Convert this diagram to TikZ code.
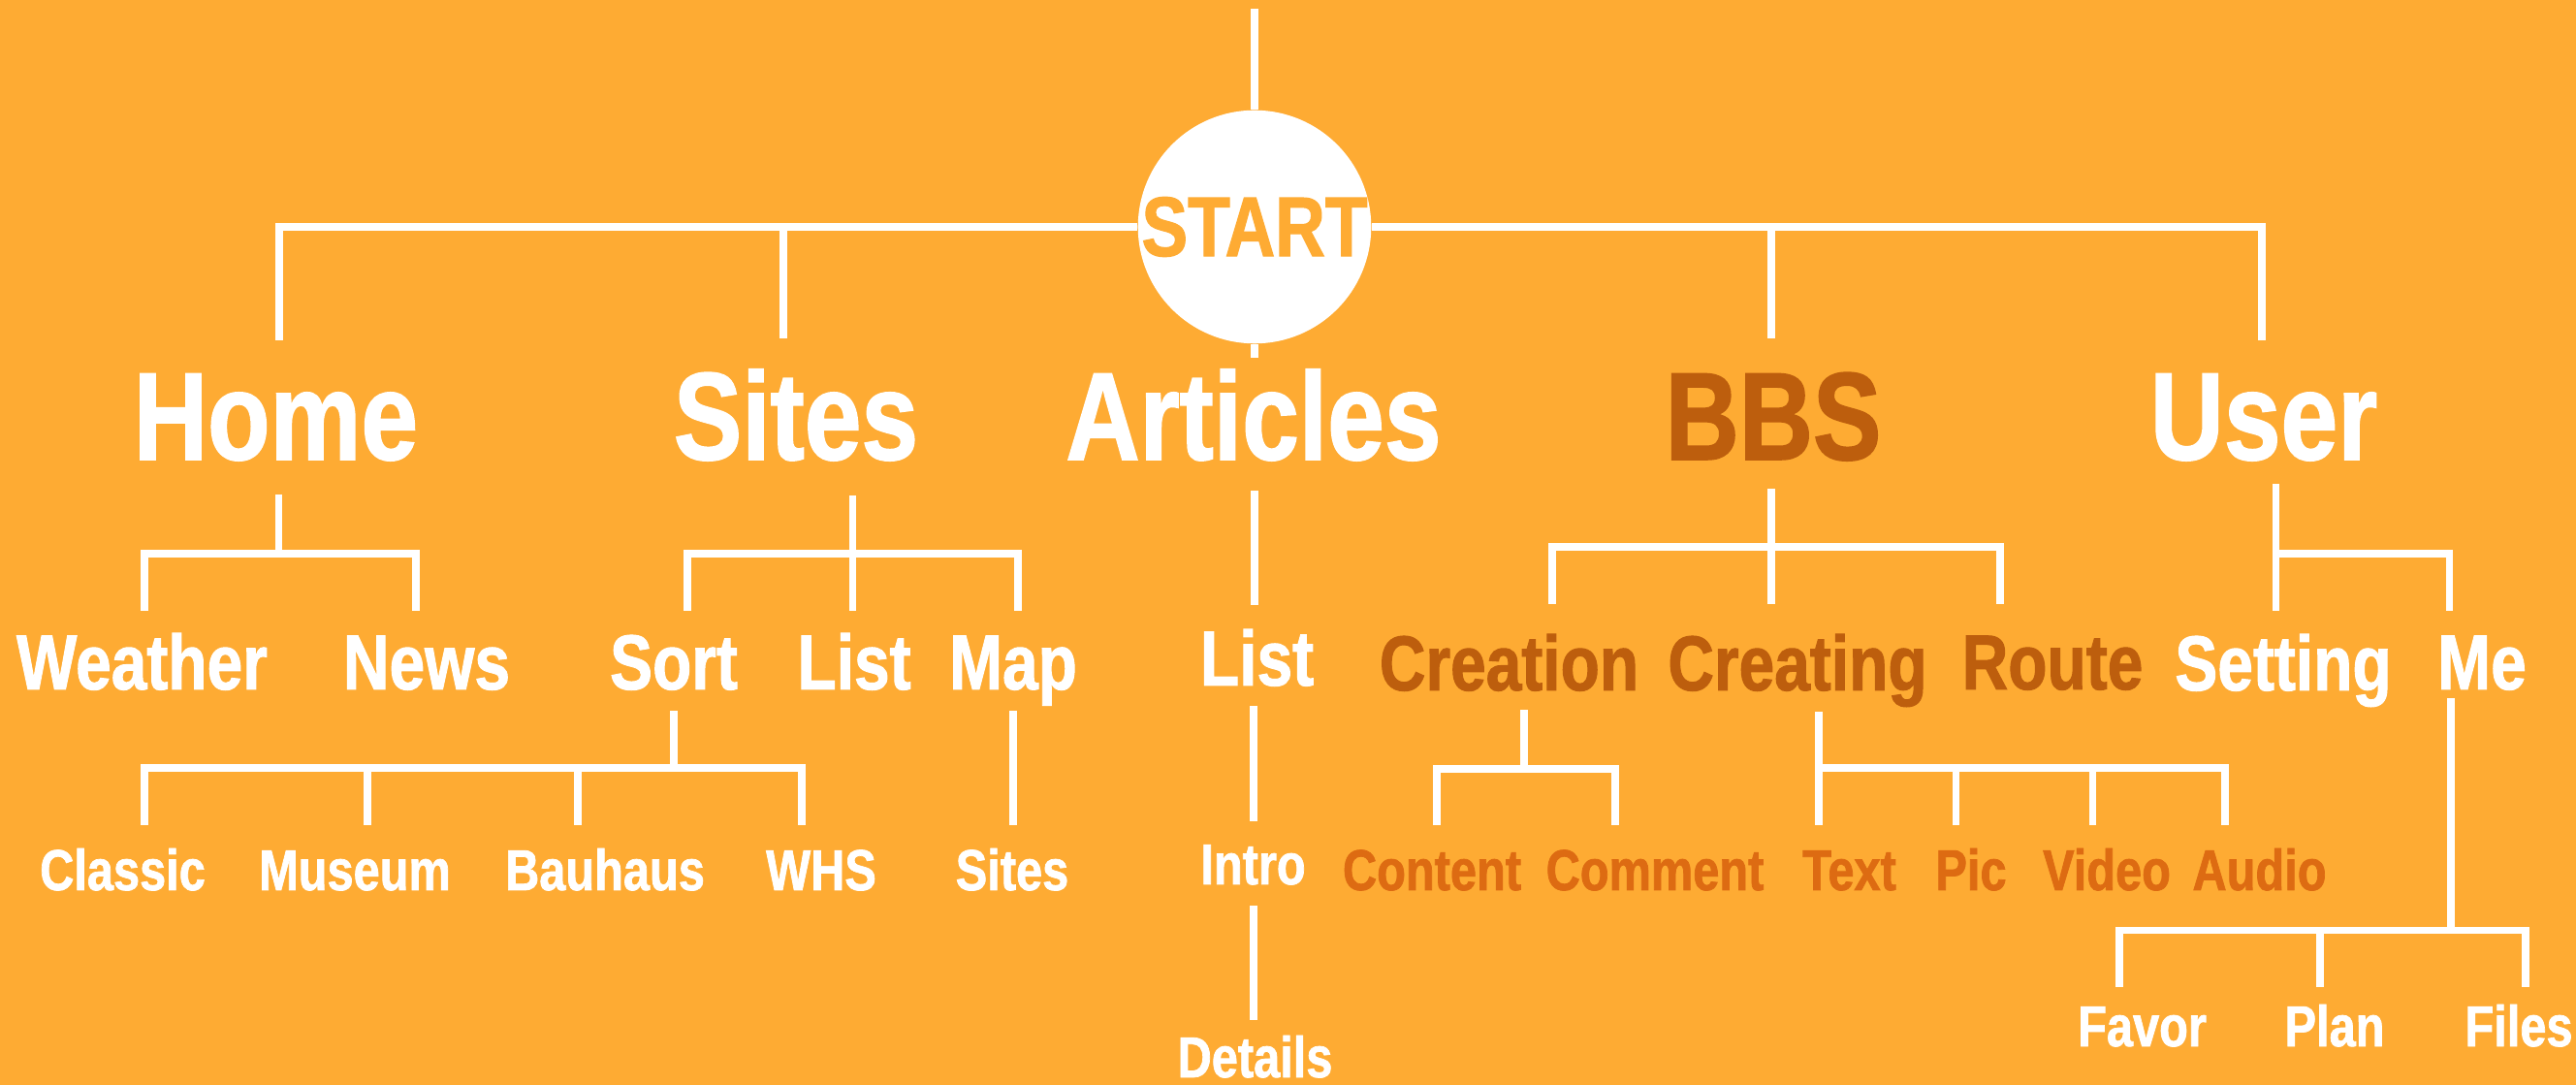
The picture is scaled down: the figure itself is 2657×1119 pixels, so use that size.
\documentclass[tikz,border=0pt]{standalone}
\usepackage{fontspec}
\setmainfont{Liberation Sans}[FakeStretch=0.82, BoldFeatures={FakeBold=1.2}]
\usetikzlibrary{positioning}

\definecolor{bgorange}{HTML}{FEAB33}
\definecolor{bbsbrown}{HTML}{BD5E0D}
\definecolor{bbsorange}{HTML}{DD6B12}

\begin{document}
\begin{tikzpicture}[
    x=0.01cm, y=-0.01cm,
    link/.style={draw=white, line width=0.075cm},
    startnode/.style={circle, fill=white, minimum size=2.37cm, inner sep=0, text=bgorange, font=\fontsize{24.8pt}{27pt}\selectfont\bfseries},
    tierone/.style={anchor=base, inner sep=0, text=white, font=\fontsize{36.6pt}{40pt}\selectfont\bfseries},
    tiertwo/.style={anchor=base, inner sep=0, text=white, font=\fontsize{22.85pt}{25pt}\selectfont\bfseries},
    tierthree/.style={anchor=base, inner sep=0, text=white, font=\fontsize{16.9pt}{19pt}\selectfont\bfseries},
    darktext/.style={text=bbsbrown},
    leaftext/.style={text=bbsorange}
]

% Background
\fill[bgorange] (0,0) rectangle (2657,1119);
\useasboundingbox (0,0) rectangle (2657,1119);

% Root
\node[startnode] (start) at (1294,234) {START};
\coordinate (entry) at (1294,9);
\draw[link] (entry) -- (start);

% Top level
\node[tierone] (home) at (284.5,474) {Home};
\node[tierone] (sites) at (821,474) {Sites};
\node[tierone] (articles) at (1293,474) {Articles};
\node[tierone, darktext] (bbs) at (1829,474) {BBS};
\node[tierone] (user) at (2335,474) {User};

\coordinate (home-t) at (288,351);
\coordinate (sites-t) at (808,349);
\coordinate (articles-t) at (1294,369);
\coordinate (bbs-t) at (1827,349);
\coordinate (user-t) at (2333,351);

\draw[link] (home-t) |- (start) -| (user-t);
\draw[link] (sites-t) -- (sites-t |- start);
\draw[link] (bbs-t) -- (bbs-t |- start);
\draw[link] (start) -- (articles-t);

% Second level
\node[tiertwo] (weather) at (146.5,711) {Weather};
\node[tiertwo] (news) at (440,711) {News};
\node[tiertwo] (sort) at (695,711) {Sort};
\node[tiertwo] (list) at (881,711) {List};
\node[tiertwo] (map) at (1045,711) {Map};
\node[tiertwo] (lista) at (1296.5,707) {List};
\node[tiertwo, darktext] (creation) at (1556.5,712) {Creation};
\node[tiertwo, darktext] (creating) at (1854,712) {Creating};
\node[tiertwo, darktext] (route) at (2117,711) {Route};
\node[tiertwo] (setting) at (2355,712) {Setting};
\node[tiertwo] (me) at (2560,711) {Me};

\coordinate (home-s) at (287.5,510);
\coordinate (home-j) at (287.5,571);
\coordinate (weather-t) at (149,630);
\coordinate (news-t) at (429,630);
\coordinate (sites-s) at (879.5,511);
\coordinate (sites-j) at (879.5,571);
\coordinate (sort-t) at (709,630);
\coordinate (list-t) at (879.5,630);
\coordinate (map-t) at (1050,630);
\coordinate (articles-s) at (1294,506);
\coordinate (lista-t) at (1294,624);
\coordinate (bbs-s) at (1827,504);
\coordinate (bbs-j) at (1827,564);
\coordinate (creation-t) at (1601,623);
\coordinate (creating-t) at (1827,623);
\coordinate (route-t) at (2063,623);
\coordinate (user-s) at (2347.5,499);
\coordinate (user-j) at (2347.5,571);
\coordinate (setting-t) at (2347.5,630);
\coordinate (me-t) at (2526.5,630);

\draw[link] (home-s) -- (home-j);
\draw[link] (weather-t) |- (home-j) -| (news-t);
\draw[link] (sites-s) -- (list-t);
\draw[link] (sort-t) |- (sites-j) -| (map-t);
\draw[link] (articles-s) -- (lista-t);
\draw[link] (bbs-s) -- (creating-t);
\draw[link] (creation-t) |- (bbs-j) -| (route-t);
\draw[link] (user-s) -- (setting-t);
\draw[link] (user-j) -| (me-t);

% Third level
\node[tierthree] (classic) at (126.5,918) {Classic};
\node[tierthree] (museum) at (366,918) {Museum};
\node[tierthree] (bauhaus) at (624,918) {Bauhaus};
\node[tierthree] (whs) at (847,918) {WHS};
\node[tierthree] (sitesb) at (1044,918) {Sites};
\node[tierthree] (intro) at (1292.5,912) {Intro};
\node[tierthree] (details) at (1294.5,1111) {Details};
\node[tierthree, leaftext] (content) at (1477,918) {Content};
\node[tierthree, leaftext] (comment) at (1707,918) {Comment};
\node[tierthree, leaftext] (text) at (1907.5,918) {Text};
\node[tierthree, leaftext] (pic) at (2033,918) {Pic};
\node[tierthree, leaftext] (video) at (2173,918) {Video};
\node[tierthree, leaftext] (audio) at (2330.5,918) {Audio};
\node[tierthree] (favor) at (2209.5,1079) {Favor};
\node[tierthree] (plan) at (2408,1079) {Plan};
\node[tierthree] (files) at (2598,1079) {Files};

\coordinate (sort-s) at (695,733);
\coordinate (sort-j) at (695,792);
\coordinate (classic-t) at (149,851);
\coordinate (museum-t) at (379,851);
\coordinate (bauhaus-t) at (596,851);
\coordinate (whs-t) at (827,851);
\coordinate (map-s) at (1045,733);
\coordinate (sitesb-t) at (1045,851);
\coordinate (lista-s) at (1293,728);
\coordinate (intro-t) at (1293,847);
\coordinate (intro-s) at (1293,934);
\coordinate (details-t) at (1293,1052);
\coordinate (creation-s) at (1572,732);
\coordinate (creation-j) at (1572,793);
\coordinate (content-t) at (1482,851);
\coordinate (comment-t) at (1666,851);
\coordinate (creating-s) at (1876,734);
\coordinate (creating-j) at (1876,792);
\coordinate (text-t) at (1876,851);
\coordinate (pic-t) at (2017.5,851);
\coordinate (video-t) at (2158.5,851);
\coordinate (audio-t) at (2295,851);
\coordinate (me-s) at (2528,720);
\coordinate (me-j) at (2528,959.5);
\coordinate (favor-t) at (2186,1018);
\coordinate (plan-t) at (2393,1018);
\coordinate (files-t) at (2605,1018);

\draw[link] (sort-s) -- (sort-j);
\draw[link] (classic-t) |- (sort-j) -| (whs-t);
\draw[link] (museum-t) -- (museum-t |- sort-j);
\draw[link] (bauhaus-t) -- (bauhaus-t |- sort-j);
\draw[link] (map-s) -- (sitesb-t);
\draw[link] (lista-s) -- (intro-t);
\draw[link] (intro-s) -- (details-t);
\draw[link] (creation-s) -- (creation-j);
\draw[link] (content-t) |- (creation-j) -| (comment-t);
\draw[link] (creating-s) -- (text-t);
\draw[link] (creating-j) -| (audio-t);
\draw[link] (pic-t) -- (pic-t |- creating-j);
\draw[link] (video-t) -- (video-t |- creating-j);
\draw[link] (me-s) -- (me-j);
\draw[link] (favor-t) |- (me-j) -| (files-t);
\draw[link] (plan-t) -- (plan-t |- me-j);

\end{tikzpicture}
\end{document}
